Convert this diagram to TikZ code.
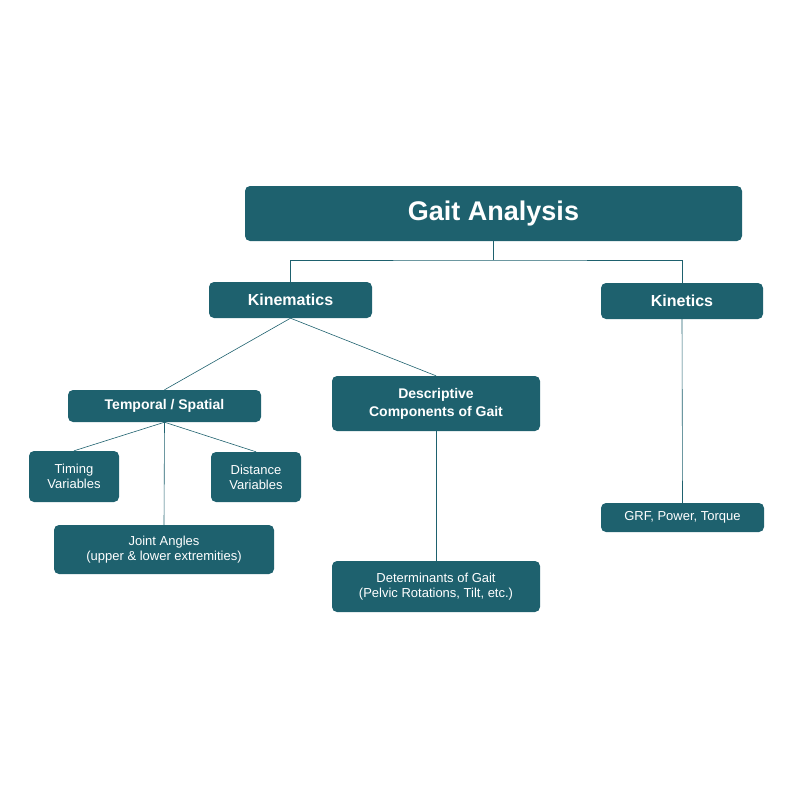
\documentclass[tikz,border=0pt]{standalone}
\usepackage{fontspec}
\setmainfont{Liberation Sans}
\begin{document}
\begin{tikzpicture}[x=1pt,y=-1pt,
  box/.style={fill=teal0,rounded corners=5pt,text=white,inner sep=0pt,align=center,font=\fontsize{13}{15}\selectfont},
  ln/.style={draw=teal0,line width=0.6pt}]
\definecolor{teal0}{HTML}{1E616E}
\useasboundingbox (0,0) rectangle (800,800);
\node[box,minimum width=497,minimum height=55,font=\bfseries\fontsize{27}{30}\selectfont] (ga) at (493.5,213.5) {Gait Analysis};
\node[box,minimum width=163,minimum height=36,font=\bfseries\fontsize{16}{18}\selectfont] (km) at (290.5,300) {Kinematics};
\node[box,minimum width=162,minimum height=36,font=\bfseries\fontsize{16}{18}\selectfont] (kt) at (682,301) {Kinetics};
\node[box,minimum width=193,minimum height=32,font=\bfseries\fontsize{14}{16}\selectfont] (ts) at (164.5,406) {Temporal / Spatial};
\node[box,minimum width=208,minimum height=55,font=\bfseries\fontsize{14}{18}\selectfont] (dc) at (436,403.5) {Descriptive\\Components of Gait};
\node[box,minimum width=90,minimum height=51] (tv) at (74,476.5) {Timing\\Variables};
\node[box,minimum width=90,minimum height=50] (dv) at (256,477) {Distance\\Variables};
\node[box,minimum width=220,minimum height=49] (ja) at (164,549.5) {Joint Angles\\(upper \& lower extremities)};
\node[box,minimum width=208,minimum height=51] (dg) at (436,586.5) {Determinants of Gait\\(Pelvic Rotations, Tilt, etc.)};
\node[box,minimum width=163,minimum height=29] (gr) at (682.5,517.5) {GRF, Power, Torque};
\coordinate (j) at (493.5,260);
\draw[ln] (ga.south) -- (j);
\draw[ln] (km.north) |- (j) -| (kt.north);
\draw[ln] (km.south) -- (ts.north);
\draw[ln] (km.south) -- (dc.north);
\draw[ln] (ts.south) -- (tv.north);
\draw[ln] (ts.south) -- (dv.north);
\draw[ln] (ts.south) -- (ja.north);
\draw[ln] (dc.south) -- (dg.north);
\draw[ln] (kt.south) -- (gr.north);
\end{tikzpicture}
\end{document}
